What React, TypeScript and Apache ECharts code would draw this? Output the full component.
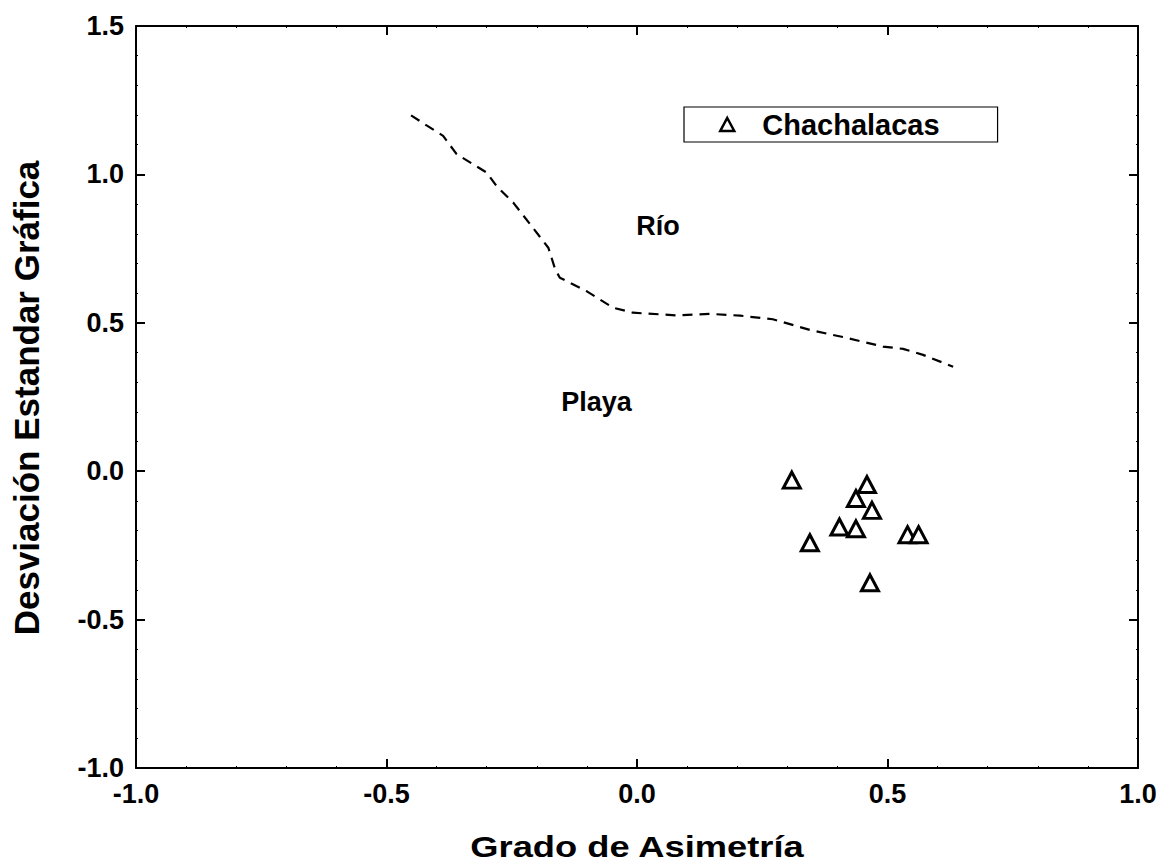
import { useEffect, useRef } from "react";
import * as echarts from "echarts";

const FONT = "'Liberation Sans', Arial, Helvetica, sans-serif";

const seriesName = "Chachalacas";
const skewness = [0.309, 0.459, 0.437, 0.469, 0.404, 0.437, 0.345, 0.54, 0.562, 0.465];
const sorting = [-0.03, -0.045, -0.092, -0.132, -0.188, -0.194, -0.241, -0.214, -0.214, -0.376];

const boundaryX = [-0.451, -0.42, -0.387, -0.36, -0.3, -0.28, -0.247, -0.194, -0.177, -0.163, -0.154, -0.1, -0.048, -0.008, 0.079, 0.146, 0.206, 0.271, 0.345, 0.411, 0.491, 0.531, 0.571, 0.631];
const boundaryY = [1.199, 1.165, 1.13, 1.068, 1.006, 0.96, 0.905, 0.79, 0.753, 0.679, 0.652, 0.606, 0.551, 0.534, 0.525, 0.53, 0.524, 0.512, 0.476, 0.452, 0.42, 0.412, 0.392, 0.352];

const regionLabels = ["Río", "Playa"];
const regionX = [0.043, -0.08];
const regionY = [0.825, 0.23];

const xTitle = "Grado de Asimetría";
const yTitle = "Desviación Estandar Gráfica";

export default function App() {
  const ref = useRef<HTMLDivElement>(null);
  useEffect(() => {
    if (!ref.current) return;
    const chart = echarts.init(ref.current, undefined, { renderer: "svg" });
    const axisCommon = (show: boolean) => ({
      type: "value" as const,
      min: -1,
      max: 1,
      interval: 0.5,
      axisLine: { show: true, onZero: false, lineStyle: { color: "#000", width: 2 } },
      axisTick: { show: true, inside: true, length: 9, lineStyle: { color: "#000", width: 2 } },
      minorTick: { show: true, splitNumber: 5, length: 2, lineStyle: { color: "#000", width: 1 } },
      splitLine: { show: false },
      minorSplitLine: { show: false },
      axisLabel: {
        show,
        fontSize: 27,
        fontWeight: "bold" as const,
        fontFamily: FONT,
        color: "#000",
        margin: 12,
        formatter: (v: number) => v.toFixed(1),
      },
    });
    const yCommon = (show: boolean) => ({
      ...axisCommon(show),
      min: -1,
      max: 1.5,
    });
    chart.setOption({
      animation: false,
      backgroundColor: "#fff",
      grid: { left: 136, right: 26, top: 26, bottom: 99, containLabel: false },
      xAxis: [
        { ...axisCommon(true), position: "bottom" },
        { ...axisCommon(false), position: "top" },
      ],
      yAxis: [
        { ...yCommon(true), position: "left" },
        { ...yCommon(false), position: "right" },
      ],
      legend: {
        show: true,
        data: [{ name: seriesName, icon: "triangle" }],
        left: 684,
        top: 107,
        padding: [3, 58, 3, 35],
        itemWidth: 14,
        itemHeight: 13,
        borderColor: "#000",
        borderWidth: 1.2,
        borderRadius: 0,
        selectedMode: false,
        itemStyle: { color: "#fff", borderColor: "#000", borderWidth: 2.5 },
        textStyle: {
          fontSize: 29,
          fontWeight: "bold",
          fontFamily: FONT,
          color: "#000",
          padding: [0, 0, 0, 23],
        },
      },
      graphic: [
        {
          type: "text",
          x: 637,
          y: 847,
          scaleX: 1.21,
          style: {
            text: xTitle,
            fontSize: 30,
            fontWeight: "bold",
            fontFamily: FONT,
            fill: "#000",
            textAlign: "center",
            textVerticalAlign: "middle",
          },
        },
        {
          type: "text",
          x: 26,
          y: 398,
          rotation: Math.PI / 2,
          style: {
            text: yTitle,
            fontSize: 35,
            fontWeight: "bold",
            fontFamily: FONT,
            fill: "#000",
            textAlign: "center",
            textVerticalAlign: "middle",
          },
        },
      ],
      series: [
        {
          name: "boundary",
          type: "line",
          xAxisIndex: 0,
          yAxisIndex: 0,
          data: boundaryX.map((x, i) => [x, boundaryY[i]]),
          showSymbol: false,
          symbol: "none",
          smooth: false,
          lineStyle: { color: "#000", width: 2.2, type: [10, 7] },
          silent: true,
        },
        {
          name: seriesName,
          type: "scatter",
          xAxisIndex: 0,
          yAxisIndex: 0,
          data: skewness.map((x, i) => [x, sorting[i]]),
          symbol: "triangle",
          symbolSize: [17, 16],
          itemStyle: { color: "#fff", borderColor: "#000", borderWidth: 3, opacity: 1 },
        },
        {
          name: "regions",
          type: "scatter",
          xAxisIndex: 0,
          yAxisIndex: 0,
          symbol: "circle",
          symbolSize: 1,
          itemStyle: { color: "#fff", opacity: 0 },
          silent: true,
          data: regionLabels.map((n, i) => ({ name: n, value: [regionX[i], regionY[i]] })),
          label: {
            show: true,
            position: [0, 0],
            align: "center",
            verticalAlign: "middle",
            formatter: "{b}",
            fontSize: 27,
            fontWeight: "bold",
            fontFamily: FONT,
            color: "#000",
            opacity: 1,
          },
        },
      ],
    });
    return () => chart.dispose();
  }, []);
  return (
    <div
      ref={ref}
      style={{ position: "absolute", left: 0, top: 0, width: 1164, height: 867 }}
    />
  );
}
